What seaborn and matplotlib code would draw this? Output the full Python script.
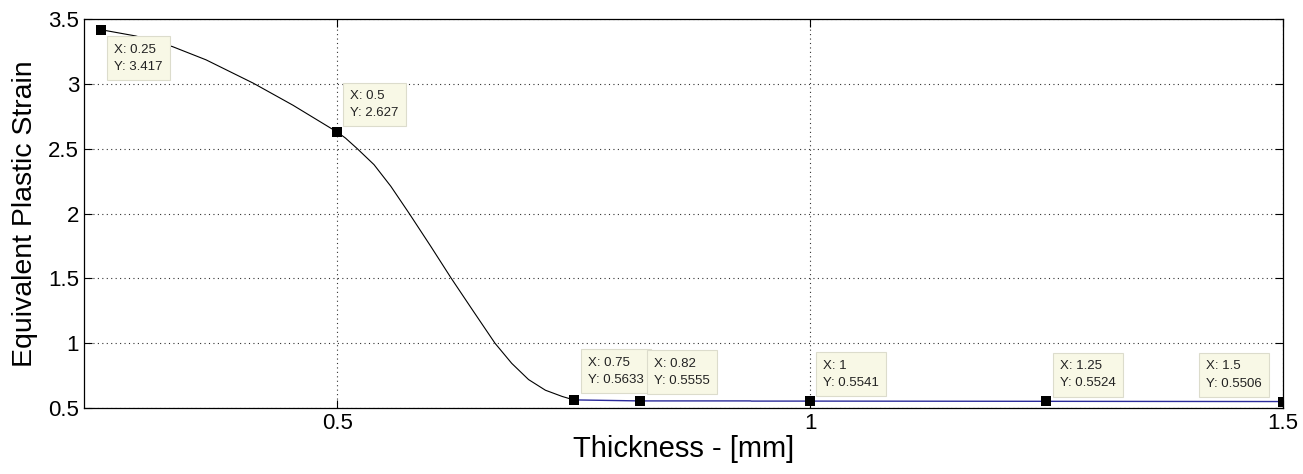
import matplotlib
matplotlib.use('Agg')
import matplotlib.pyplot as plt
import seaborn as sns
import pandas as pd

# curve (black part, 0.25 -> 0.75)
curve_x = [0.25, 0.2865, 0.3255, 0.361, 0.411, 0.453, 0.5, 0.5085, 0.521, 0.5387,
           0.5565, 0.576, 0.5985, 0.6205, 0.6435, 0.6667, 0.6844,
           0.7022, 0.72, 0.7377, 0.75]
curve_y = [3.417, 3.369, 3.287, 3.185, 3.005, 2.835, 2.627, 2.582, 2.5, 2.377,
           2.21, 2.0, 1.75, 1.5, 1.25, 1.0, 0.845,
           0.72, 0.638, 0.59, 0.5633]

# flat blue part, 0.75 -> 1.5
flat_x = [0.75, 0.82, 0.937, 0.938, 1.0, 1.25, 1.5]
flat_y = [0.5633, 0.5555, 0.5555, 0.5541, 0.5541, 0.5524, 0.5506]

# data tips
tip_x = [0.25, 0.5, 0.75, 0.82, 1, 1.25, 1.5]
tip_y = [3.417, 2.627, 0.5633, 0.5555, 0.5541, 0.5524, 0.5506]
tip_labels = ["X: 0.25\nY: 3.417", "X: 0.5\nY: 2.627", "X: 0.75\nY: 0.5633",
              "X: 0.82\nY: 0.5555", "X: 1\nY: 0.5541", "X: 1.25\nY: 0.5524",
              "X: 1.5\nY: 0.5506"]

sns.set_style("white")
plt.rcParams['font.family'] = ['Liberation Sans', 'DejaVu Sans']
plt.rcParams['text.color'] = 'black'
plt.rcParams['axes.labelcolor'] = 'black'
plt.rcParams['xtick.color'] = 'black'
plt.rcParams['ytick.color'] = 'black'

fig = plt.figure(figsize=(13.03, 4.74), dpi=100)
ax = fig.add_axes([0.0645, 0.139, 0.92, 0.821])

curve = pd.DataFrame({'x': curve_x, 'y': curve_y})
flat = pd.DataFrame({'x': flat_x, 'y': flat_y})
sns.lineplot(data=curve, x='x', y='y', sort=False, color='black', linewidth=0.8, ax=ax)
sns.lineplot(data=flat, x='x', y='y', sort=False, color='#2b2b9c', linewidth=1.0, ax=ax)
sns.scatterplot(x=tip_x, y=tip_y, marker='s', s=55, color='black', edgecolor='black',
                linewidth=0, ax=ax, zorder=5)

# placement of each tip box relative to its marker (pixels)
offsets = [(13, -14, 'left', 'top'), (13, 13, 'left', 'bottom'),
           (14, 14, 'left', 'bottom'), (14, 14, 'left', 'bottom'),
           (13, 12, 'left', 'bottom'), (14, 12, 'left', 'bottom'),
           (-21, 12, 'right', 'bottom')]
for x, y, lab, (dx, dy, ha, va) in zip(tip_x, tip_y, tip_labels, offsets):
    ax.annotate(lab, (x, y), xytext=(dx, dy), textcoords='offset pixels',
                ha=ha, va=va, multialignment='left', fontsize=9.5, color='#222222',
                linespacing=1.6,
                bbox=dict(boxstyle='square,pad=0.55', fc='#f8f8e6', ec='#dcdccc', lw=0.8),
                zorder=6)

ax.set_xlim(0.232, 1.5)
ax.set_ylim(0.5, 3.5)
ax.set_xticks([0.5, 1, 1.5])
ax.set_xticklabels(['0.5', '1', '1.5'])
ax.set_yticks([0.5, 1, 1.5, 2, 2.5, 3, 3.5])
ax.set_yticklabels(['0.5', '1', '1.5', '2', '2.5', '3', '3.5'])
ax.grid(True, linestyle=(0, (1, 3)), color='#333333', linewidth=0.8)
ax.tick_params(direction='in', length=6, width=0.8, labelsize=16, top=True, right=True,
               left=True, bottom=True, colors='black')
for s in ax.spines.values():
    s.set_visible(True)
    s.set_color('black')
    s.set_linewidth(0.9)

ax.set_xlabel('Thickness - [mm]', fontsize=21, labelpad=1)
ax.set_ylabel('Equivalent Plastic Strain', fontsize=20.5, labelpad=7)

fig.savefig('out.png', dpi=100, facecolor='white')
